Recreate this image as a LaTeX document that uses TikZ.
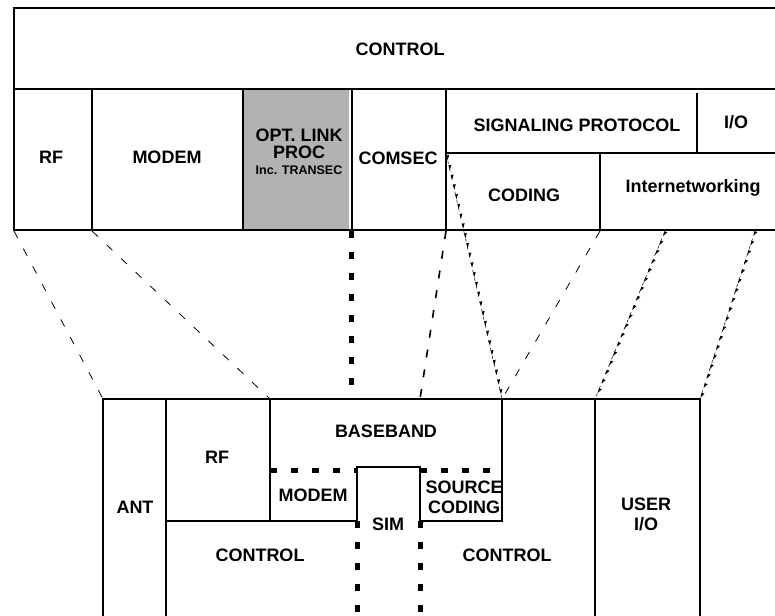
\documentclass[tikz,border=0pt]{standalone}
\usepackage{fontspec}
\setmainfont{Liberation Sans}
\usetikzlibrary{positioning,decorations.markings}

\tikzset{
	lbl/.style={font=\fontsize{18}{20}\selectfont\bfseries, align=center, inner sep=0pt},
	smalllbl/.style={font=\fontsize{12.5}{14}\selectfont\bfseries, inner sep=0pt},
	wall/.style={line width=2pt},
	blk/.style={line width=5pt, dash pattern=on 7pt off 14pt},
	link/.style={line width=0.8pt, dash pattern=on 8pt off 12pt},
	ticked/.style={line width=0.5pt, dash pattern=on 3pt off 5pt, postaction={decorate},
		decoration={markings, mark=between positions 0.03 and 1 step 10pt with {\fill (0pt,0pt) -- (-5pt,2.6pt) -- (-5pt,-0.4pt) -- cycle;}}}
}

\begin{document}
\begin{tikzpicture}[x=1pt,y=-1pt]
			\useasboundingbox (0,0) rectangle (775,615);
			\fill[gray!60] (243,90) rectangle (349,229);
			\draw[wall] (777,8) -- (14,8) -- (14,230) -- (777,230);
			\draw[wall] (14,89) -- (777,89);
			\draw[wall] (92,89) -- (92,230);
			\draw[wall] (243,89) -- (243,230);
			\draw[wall] (352,89) -- (352,230);
			\draw[wall] (446,89) -- (446,230);
			\draw[wall] (446,153) -- (777,153);
			\draw[wall] (697,93) -- (697,154);
			\draw[wall] (600,153) -- (600,230);
			\draw[wall] (103,617) -- (103,399) -- (700,399) -- (700,617);
			\draw[wall] (166,399) -- (166,617);
			\draw[wall] (595,399) -- (595,617);
			\draw[wall] (270,399) -- (270,521);
			\draw[wall] (166,521) -- (357,521) -- (357,467) -- (420,467) -- (420,521) -- (502,521) -- (502,399);
			\draw[blk] (270,470) -- (357,470);
			\draw[blk] (420,470) -- (502,470);
			\draw[blk] (357,521) -- (357,617);
			\draw[blk] (420,521) -- (420,617);
			\node[lbl] (ctl) at (400,49) {CONTROL};
			\node[lbl] (rf) at (51,157) {RF};
			\node[lbl] (modem) at (167,157) {MODEM};
			\node[lbl, font=\fontsize{18}{17}\selectfont\bfseries] (opt) at (299,144) {OPT. LINK\\PROC};
			\node[smalllbl, below=6pt of opt] (tsec) {Inc. TRANSEC};
			\node[lbl] (comsec) at (398,158) {COMSEC};
			\node[lbl] (sig) at (577,125) {SIGNALING PROTOCOL};
			\node[lbl] (io) at (736,122) {I/O};
			\node[lbl] (coding) at (524,195) {CODING};
			\node[lbl, anchor=base] (inet) at (693,192) {Internetworking};
			\node[lbl] (bb) at (386,431) {BASEBAND};
			\node[lbl] (rf2) at (217,457) {RF};
			\node[lbl] (modem2) at (313,495) {MODEM};
			\node[lbl] (ant) at (135,507) {ANT};
			\node[lbl] (sim) at (388,524) {SIM};
			\node[lbl] (src) at (464,497) {SOURCE\\CODING};
			\node[lbl] (user) at (646,514) {USER\\I/O};
			\node[lbl] (ctl2) at (260,555) {CONTROL};
			\node[lbl] (ctl3) at (507,555) {CONTROL};
			\coordinate (rfT) at (14,231);
			\coordinate (antB) at (103,399);
			\coordinate (modemT) at (92,231);
			\coordinate (rf2B) at (270,399);
			\coordinate (optT) at (351,231);
			\coordinate (optB) at (351,399);
			\coordinate (comT) at (446,231);
			\coordinate (simB) at (420,399);
			\coordinate (codT) at (446,153);
			\coordinate (bbB) at (502,399);
			\coordinate (inetT) at (600,231);
			\coordinate (sigT) at (665,231);
			\coordinate (userB) at (595,399);
			\coordinate (ioT) at (755,231);
			\coordinate (ioB) at (700,399);
			\draw[link] (rfT) -- (antB);
			\draw[link] (modemT) -- (rf2B);
			\draw[blk] (optT) -- (optB);
			\draw[link, line width=1.6pt] (comT) -- (simB);
			\draw[ticked] (codT) -- (bbB);
			\draw[link] (inetT) -- (bbB);
			\draw[ticked] (sigT) -- (userB);
			\draw[ticked] (ioT) -- (ioB);
		\end{tikzpicture}
\end{document}
